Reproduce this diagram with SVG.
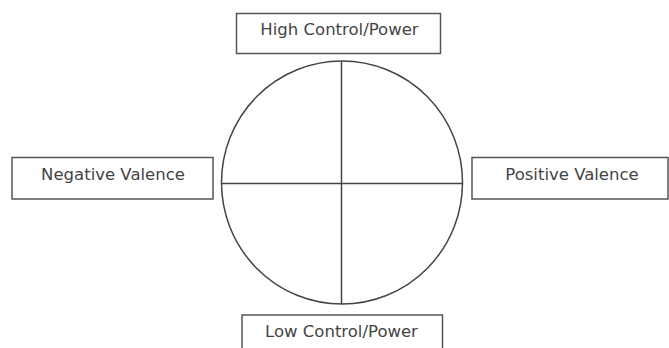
<svg xmlns="http://www.w3.org/2000/svg" width="669" height="348" viewBox="0 0 669 348">
<style>
.box{fill:#fff;stroke:#555;stroke-width:1.5}
.lbl{font-family:"DejaVu Sans",Verdana,sans-serif;font-size:16.5px;fill:#444;text-anchor:middle}
.ln{stroke:#444;stroke-width:1.5;fill:none}
</style>
<rect width="669" height="348" fill="#fff"/>
<g id="circle">
<ellipse class="ln" cx="342" cy="182.5" rx="120.5" ry="121.5"/>
</g>
<g id="connectors">
<line class="ln" x1="341.5" y1="61" x2="341.5" y2="304"/>
<line class="ln" x1="221.5" y1="183.5" x2="462.5" y2="183.5"/>
</g>
<g id="high">
<rect class="box" x="236.5" y="13.5" width="204" height="40"/>
<text class="lbl" x="339.5" y="34.5">High Control/Power</text>
</g>
<g id="negative">
<rect class="box" x="12" y="157.5" width="201" height="41.5"/>
<text class="lbl" x="113" y="179.5">Negative Valence</text>
</g>
<g id="positive">
<rect class="box" x="472" y="157.5" width="196" height="41.5"/>
<text class="lbl" x="572" y="179.5">Positive Valence</text>
</g>
<g id="low">
<rect class="box" x="242" y="315" width="200.5" height="40"/>
<text class="lbl" x="341.5" y="336.5">Low Control/Power</text>
</g>
</svg>
